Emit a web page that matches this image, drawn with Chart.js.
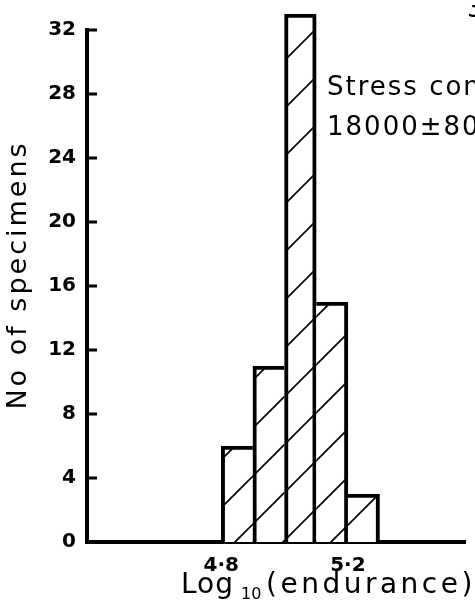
<!DOCTYPE html>
<html>
<head>
<meta charset="utf-8">
<script src="https://cdn.jsdelivr.net/npm/chart.js@4.4.0/dist/chart.umd.min.js"></script>
<style>
  html, body { margin: 0; padding: 0; background: #fff; }
</style>
</head>
<body>
<canvas id="histo" width="475" height="606"></canvas>
<script>
// Datos del histograma
const binCentres = [4.85, 4.95, 5.05, 5.15, 5.25];
const specimenCounts = [6, 11, 33, 15, 3];
const xTickValues = [4.8, 5.2];
const xTickLabels = ['4·8', '5·2'];
const yTickValues = [0, 4, 8, 12, 16, 20, 24, 28, 32];
const yTitle = 'No of specimens';
const xTitleMain = 'Log';
const xTitleSub = '10';
const xTitleRest = '(endurance)';
const noteLines = ['Stress con', '18000±80'];
const cornerText = '3';

const FONT = '"DejaVu Sans", sans-serif';
const INK = '#000';

// Rayado diagonal para las barras
function hatchPattern() {
    const tile = document.createElement('canvas');
    tile.width = 48;
    tile.height = 48;
    const c = tile.getContext('2d');
    c.fillStyle = '#fff';
    c.fillRect(0, 0, 48, 48);
    c.strokeStyle = INK;
    c.lineWidth = 1.7;
    for (let k = -1; k <= 2; k++) {
        const s = 9 + 48 * k;
        c.beginPath();
        c.moveTo(-5, s + 5);
        c.lineTo(s + 5, -5);
        c.stroke();
    }
    return c.createPattern(tile, 'repeat');
}

// Bordes: la arista compartida la dibuja la barra más alta
function barBorder(ctx) {
    const i = ctx.dataIndex;
    const h = specimenCounts[i];
    const prev = i > 0 ? specimenCounts[i - 1] : -1;
    const next = i < specimenCounts.length - 1 ? specimenCounts[i + 1] : -1;
    return {
        top: 4,
        left: h >= prev ? 4 : 0,
        right: h > next ? 4 : 0,
        bottom: 0
    };
}

// Marcas hacia dentro en el eje Y y textos a mano
const decorations = {
    id: 'decorations',
    afterDraw(chart) {
        const { ctx, chartArea, scales } = chart;
        ctx.save();
        ctx.strokeStyle = INK;
        ctx.lineWidth = 3;
        yTickValues.forEach(v => {
            const py = scales.y.getPixelForValue(v);
            ctx.beginPath();
            ctx.moveTo(chartArea.left, py);
            ctx.lineTo(chartArea.left + 10, py);
            ctx.stroke();
        });

        ctx.fillStyle = INK;
        ctx.textBaseline = 'alphabetic';

        // título eje Y
        ctx.save();
        ctx.font = '27px ' + FONT;
        ctx.letterSpacing = '3px';
        ctx.textAlign = 'center';
        ctx.translate(26, 275);
        ctx.rotate(-Math.PI / 2);
        ctx.fillText(yTitle, 0, 0);
        ctx.restore();

        // título eje X con subíndice
        ctx.textAlign = 'left';
        ctx.font = '28px ' + FONT;
        ctx.letterSpacing = '1px';
        ctx.fillText(xTitleMain, 181, 593);
        ctx.font = '16px ' + FONT;
        ctx.letterSpacing = '0px';
        ctx.fillText(xTitleSub, 241, 599);
        ctx.font = '28px ' + FONT;
        ctx.letterSpacing = '3.5px';
        ctx.fillText(xTitleRest, 266, 593);

        // anotación
        ctx.font = '26px ' + FONT;
        ctx.letterSpacing = '2px';
        ctx.fillText(noteLines[0], 327, 95);
        ctx.fillText(noteLines[1], 327, 135);
        ctx.fillText(cornerText, 467, 17);
        ctx.restore();
    }
};

new Chart(document.getElementById('histo'), {
    type: 'bar',
    data: {
        datasets: [{
            data: binCentres.map((v, i) => ({ x: v, y: specimenCounts[i] })),
            backgroundColor: hatchPattern(),
            borderColor: INK,
            borderWidth: barBorder,
            borderSkipped: false,
            barPercentage: 1,
            categoryPercentage: 1,
            clip: false
        }]
    },
    options: {
        responsive: false,
        animation: false,
        layout: { padding: { top: 30, right: 10, left: 0, bottom: 0 } },
        plugins: {
            legend: { display: false },
            tooltip: { enabled: false }
        },
        scales: {
            x: {
                type: 'linear',
                offset: false,
                min: 4.376,
                max: 5.57,
                grid: { display: false },
                border: { display: true, color: INK, width: 4 },
                afterBuildTicks: s => { s.ticks = xTickValues.map(v => ({ value: v })); },
                afterFit: s => { s.height = 64; },
                ticks: {
                    color: INK,
                    padding: 4,
                    font: { family: FONT, size: 20, weight: 'bold' },
                    callback: v => xTickLabels[xTickValues.indexOf(v)] ?? ''
                }
            },
            y: {
                min: 0,
                max: 32,
                grid: { display: false },
                border: { display: true, color: INK, width: 4 },
                afterBuildTicks: s => { s.ticks = yTickValues.map(v => ({ value: v })); },
                afterFit: s => { s.width = 87; },
                ticks: {
                    color: INK,
                    padding: 3,
                    font: { family: FONT, size: 20, weight: 'bold' }
                }
            }
        }
    },
    plugins: [decorations]
});
</script>
</body>
</html>
